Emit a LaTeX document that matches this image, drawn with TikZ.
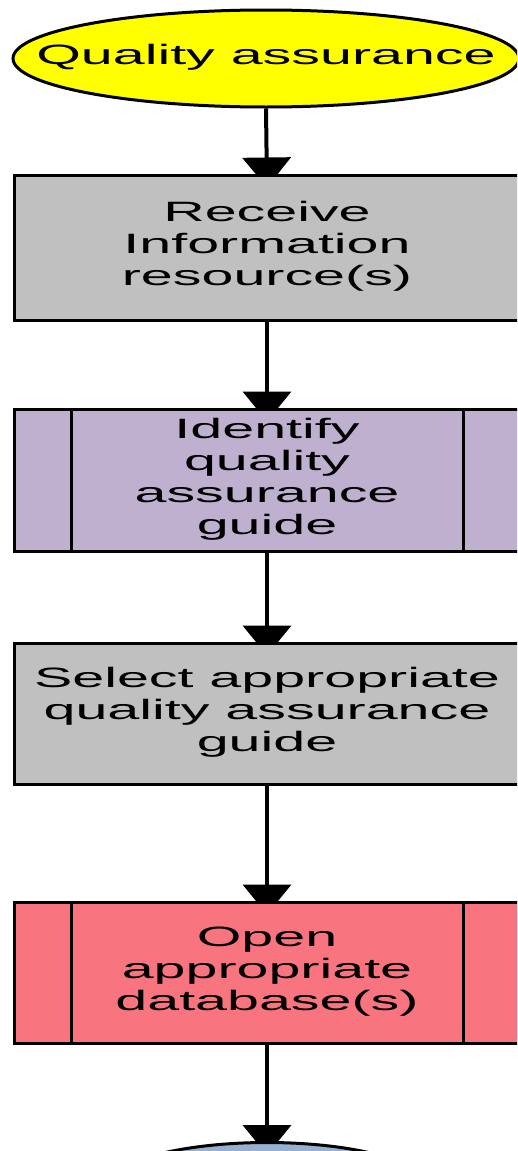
\documentclass[tikz,border=0pt]{standalone}
\usepackage{fontspec}
\setmainfont{Liberation Sans}
\usetikzlibrary{shapes.geometric,arrows.meta,backgrounds}
\definecolor{termyellow}{HTML}{FFFF00}
\definecolor{procgray}{HTML}{C0C0C0}
\definecolor{predpurple}{HTML}{C0B0D0}
\definecolor{predred}{HTML}{F87580}
\definecolor{termblue}{HTML}{98B0D0}
\newcommand\wtext[1]{\makebox[0pt]{\scalebox{2.05}[1]{\begin{tabular}{@{}c@{}}#1\end{tabular}}}}
\tikzset{
  base/.style={draw=black, line width=3pt, inner sep=0pt, font=\fontsize{28}{32}\selectfont},
  term/.style={base, ellipse, minimum width=506pt, minimum height=97pt},
  procbox/.style={base, rectangle, minimum width=506pt},
  flow/.style={line width=4pt, -{Triangle[width=48pt,length=30pt]}}
}
\begin{document}
\begin{tikzpicture}[x=1pt,y=-1pt]
\useasboundingbox (0,0) rectangle (517,1151);
\clip (0,0) rectangle (517,1151);
\node[term, fill=termyellow] (start) at (266,58.5) {\wtext{Quality assurance}};
\node[procbox, fill=procgray, minimum height=145pt] (recv) at (267,247.5) {\wtext{Receive\\Information\\resource(s)}};
\node[procbox, fill=predpurple, minimum height=142pt] (ident) at (267,480) {\wtext{Identify\\quality\\assurance\\guide}};
\node[procbox, fill=procgray, minimum height=141pt] (select) at (267,713.5) {\wtext{Select appropriate\\quality assurance\\guide}};
\node[procbox, fill=predred, minimum height=141pt] (open) at (267,972.5) {\wtext{Open\\appropriate\\database(s)}};
\node[term, fill=termblue, minimum width=334pt] (finish) at (267,1191) {};
\foreach \n in {ident,open}{
  \draw[line width=3.5pt] ([xshift=59pt]\n.north west) -- ([xshift=59pt]\n.south west);
  \draw[line width=3.5pt] ([xshift=-58pt]\n.north east) -- ([xshift=-58pt]\n.south east);
}
\begin{scope}[on background layer]
\draw[flow] (start.south) -- ([yshift=-14pt]recv.north);
\draw[flow] (recv.south) -- ([yshift=-14pt]ident.north);
\draw[flow] (ident.south) -- ([yshift=-14pt]select.north);
\draw[flow] (select.south) -- ([yshift=-14pt]open.north);
\draw[flow] (open.south) -- ([yshift=-14pt]finish.north);
\end{scope}
\end{tikzpicture}
\end{document}
